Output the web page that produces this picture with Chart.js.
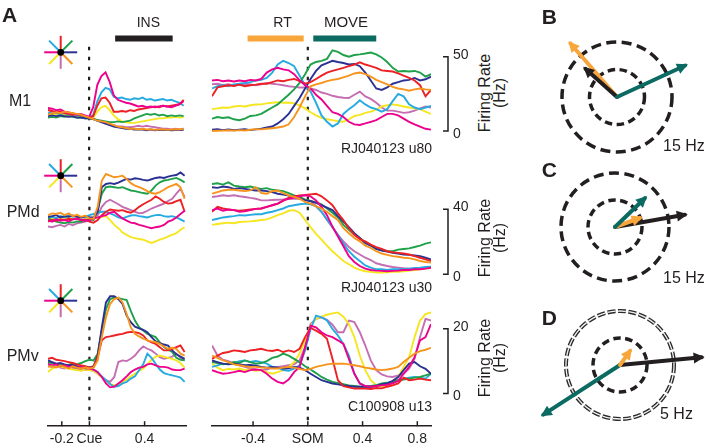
<!DOCTYPE html>
<html>
<head>
<meta charset="utf-8">
<title>Directional tuning across epochs</title>
<script src="https://cdn.jsdelivr.net/npm/chart.js@4.4.1/dist/chart.umd.min.js"></script>
<style>
  html, body { margin: 0; padding: 0; background: #fff; }
  #fig { position: relative; width: 710px; height: 448px; overflow: hidden;
         font-family: "Liberation Sans", Arial, Helvetica, sans-serif; color: #231f20; }
  #fig canvas { position: absolute; }
  .lbl { position: absolute; line-height: 1; white-space: nowrap; }
</style>
</head>
<body>
<div id="fig"></div>
<script>
const FONT = "'Liberation Sans', Arial, Helvetica, sans-serif";
const INK = "#231f20";
const RT_ORANGE = "#f8a53a";
const MOVE_TEAL = "#0b6a62";

// sample times (s), aligned on cue onset and on start of movement (SOM)
const cueTimes = [-0.3, -0.27, -0.24, -0.21, -0.18, -0.15, -0.12, -0.09, -0.06, -0.03, 0, 0.03, 0.06, 0.09, 0.12, 0.15, 0.18, 0.21, 0.24, 0.27, 0.3, 0.33, 0.36, 0.39, 0.42, 0.45, 0.48, 0.51, 0.54, 0.57, 0.6, 0.63, 0.66, 0.69];
const somTimes = [-0.7, -0.66, -0.62, -0.58, -0.54, -0.5, -0.46, -0.42, -0.38, -0.34, -0.3, -0.26, -0.22, -0.18, -0.14, -0.1, -0.06, -0.02, 0.02, 0.06, 0.1, 0.14, 0.18, 0.22, 0.26, 0.3, 0.34, 0.38, 0.42, 0.46, 0.5, 0.54, 0.58, 0.62, 0.66, 0.7, 0.74, 0.78, 0.82, 0.86, 0.9];
const cueTicks = [-0.2, 0, 0.4];
const somTicks = [-0.4, 0, 0.4, 0.8];

// task epochs (s)
const insEpoch = [0.19, 0.61];
const rtEpoch = [-0.44, -0.03];
const moveEpoch = [0.04, 0.5];

// reach directions and their colours
const dirAngles = [0, 45, 90, 135, 180, 225, 270, 315];
const dirColors = ["#2b3192", "#1fa04a", "#ed2024", "#27aae1", "#ec008c", "#f5e61e", "#c56db3", "#f7941d"];
const dirOrder = [4, 5, 3, 6, 2, 7, 8, 1];

// firing rates (Hz), one row per direction in dirAngles order
const m1Cue = [
  [10,10.5,10,10.5,10,9.5,10,9,9,8.5,8.5,8,7,6,5,4,3,2.5,2,1.5,1.5,1,1,1,0.5,1,0.5,0.8,0.6,0.8,0.5,0.7,0.6,0.8],
  [9,9.5,9,10,9.5,10,9.5,9,9,8.5,8.5,8,7.5,7,6.5,6,6,6.5,6,6.5,7,8.5,9.5,10.5,11.5,11,11.5,10.5,11,10,10.5,10,10.5,10],
  [14,13.5,12.5,13,12,11.5,11,11.5,10.5,10,9,10,17,22,22.5,19,13,13,13.5,13,14,13.5,14.5,15,15.5,16,16.5,16,17,16.5,17,17.5,18,21],
  [12,12.5,12,11.5,12,11,11.5,10.5,10,9.5,9,11,20,26,29,28,23,22,22.5,21.5,21,22,21.5,22.5,21,21.5,20.5,21,21.5,20.5,21,20,19,17],
  [15.5,15,14,14.5,13,12.5,12,11,11.5,10.5,9.5,16,31,37,39.5,33,24,21,20,19,18.5,17.5,16.5,17,16,16.5,16,16.5,17,16.5,16,17,18,20],
  [11,11.5,11,10.5,11,10.5,10,9.5,9.5,9,8.5,9,13,16,17,14,10.5,8,6.5,6,5.5,5.5,6,6.5,7,7.5,8,8.5,8.5,9,9,9.5,9,9.5],
  [14.5,13,12,11.5,11,10.5,10,10,9.5,9,9,8.5,7,6,5,4.5,4,3,3,2.5,2.5,3,3.5,3,3.5,3,2.5,2,1.5,1.5,1,1.5,1,1.5],
  [11,12,12.5,12,13,12.5,12,11.5,11,10,9,8,7,6.5,6,5,4,3,2.5,2,1.5,1.5,1,1.5,1,1.2,0.8,1,1.2,0.8,1,1.2,1,1.5]
];
const m1Som = [
  [0.9,1.3,0.6,1.1,0.5,0.9,1.3,0.6,1.1,1.5,2.4,3,5.1,7.9,11.5,16.9,22.2,28.6,35,40.4,44.2,45.7,47.2,46.4,45.7,44.7,45.1,43.6,39.3,34,28.6,27.6,29.3,31.8,32.9,34,34.4,35.7,34,34.8,36.6],
  [8.3,9.4,8.8,9.2,7.9,7.3,8.3,10.1,10.5,11.5,13.7,15.8,17.9,21.2,24.4,28,32.3,38.2,44.7,46.4,47.2,48.5,54.3,53.2,51.1,50,51.1,51.5,52.1,52.8,51.5,49.4,46.4,42.5,40,40.4,40,40.4,39.3,36.6,38.2],
  [23.3,29.3,30.1,30.8,30.3,31.2,30.1,30.8,31.2,31.8,31.8,32.9,34,33.5,34.4,35,33.5,31.8,32.9,35,37.2,39.3,40.4,41.4,42.5,43.6,44.7,46.2,44.7,43.6,42.5,40.8,40.4,40,38.7,37.2,35.7,34,30.8,23.3,27.6],
  [28.6,30.1,30.8,30.3,31.4,31.8,32.3,32.9,34,34.4,35.7,39.3,44.7,47.2,45.7,43.6,37.2,30.8,26.5,19,10.5,6.2,3,5.1,11.5,14.7,17.3,20.7,17.9,15.8,14.7,13,14.7,20.1,25,23.3,17.9,15.8,14.7,15.8,16.9],
  [34,34.4,33.5,34,33.3,34,33.5,34.4,34,35,39.3,41.4,42.5,41.4,40.8,38.2,34,30.8,28.6,24.4,21.2,16.9,12.6,11.5,9.4,6.2,4.5,4.1,5.1,6.2,7.3,9.4,11.5,11.5,10.5,8.3,6.2,4.5,3,1.5,0.9],
  [14.7,15.2,15.8,15.6,16.5,16.9,16.5,17.3,17.8,17.9,18.6,19,19.4,19,19.2,18.6,17.3,15.2,12.6,10.5,8.8,7.9,7.3,6.6,6.2,7.9,10.1,10.9,12.2,13,14.3,16.5,17.3,17.9,17.3,16.5,15.8,15.2,14.7,13,11.5],
  [31.4,31.8,30.8,31.4,30.5,31,31.8,31.4,30.8,31.4,32.3,31.8,31.4,30.8,30.1,29.7,29.3,29.3,28.6,27.6,25.9,25,23.7,22.9,22.4,22.2,24.4,26.5,23.3,21.6,19,15.8,13.7,13.7,13,12.2,12.6,13.7,15.2,16.5,15.8],
  [0,0.2,0.3,0.5,0.3,0.6,0.4,0.9,1.3,1.1,1.5,1.9,2.4,3,4.5,9.4,15.8,23.3,30.1,31.4,32.3,33.5,34.4,35,36.1,37.2,38.7,39.3,38.2,36.6,34.4,32.9,31.4,29.7,28.6,28,27.1,28,28.6,28,27.6]
];
const pmdCue = [
  [35.3,35.7,36.3,34.9,35.7,35.3,36.1,35.3,34.9,35.7,34.9,34.9,38.4,53.5,55.5,56,55.5,56.3,57.6,58.6,58.2,59,58.6,58,57.6,58.4,59.2,59.6,59.2,60,60.6,61,62.6,60.6],
  [34.3,33.3,32.3,31.7,31.3,32.1,31.7,32.5,32.3,33.3,33.7,33.3,39.4,49.5,53.5,53.9,53.5,53.1,53.5,52.5,51.5,51.1,50.5,49.9,49.5,51.5,54.5,56.5,57.6,58,58.6,59.2,58,56.5],
  [32.3,33.3,32.9,33.7,33.3,34.1,33.7,34.3,33.3,33.7,32.3,31.7,33.3,36.3,38.4,39.8,39.4,39,39.4,38.4,37.8,39.4,41.4,43,44.4,45.8,47.9,46.4,44.4,43.4,43.8,45,45.8,38.4],
  [34.9,35.3,34.3,35.7,34.9,36.1,35.3,35.7,34.9,35.3,36.3,37,37.8,38.4,38.4,37.4,36.3,34.9,34.3,35.3,36.1,36.3,35.7,35.3,34.9,35.7,36.3,36.5,35.7,35.3,35.7,34.9,33.7,32.3],
  [33.3,32.3,33.7,32.9,33.3,32.5,33.7,34.1,33.3,32.9,33.3,34.3,34.9,35.7,36.3,37.8,38.4,36.3,34.3,32.9,31.7,31.3,30.3,29.7,28.9,28.3,28.9,29.3,30.3,32.3,33.3,34.9,37,39],
  [33.7,34.3,34.1,34.9,34.3,34.5,33.7,34.1,33.3,33.7,34.1,34.3,34.9,35.3,35.7,33.3,30.3,28.3,25.6,24.2,22.8,22.2,21.6,21.2,20.2,19.2,20.2,21.2,22,23.2,24.2,25.2,27.3,28.9],
  [29.3,28.9,29.7,30.3,29.3,30.9,30.1,31.3,31.7,32.3,33.3,33.7,36.3,41.4,44.4,45.8,44.4,43,41.4,40.4,39.4,38.4,37.4,37.8,39,40.4,41.4,42.4,43.4,45,46.4,49.5,52.5,47.5],
  [36.3,37.4,37,37.8,36.3,37.4,35.7,36.5,35.3,36.1,34.3,34.1,41.4,57.6,61.6,60.6,59.6,60,60.6,58.6,56,54.5,53.5,52.5,51.1,49.9,49.5,50.5,51.9,53.5,54.5,55.5,53.5,46.4]
];
const pmdSom = [
  [53.5,53.1,53.9,53.5,52.5,52.9,52.5,51.9,51.5,51.5,51.1,50.5,49.5,48.9,48.3,47.5,46.6,45.4,45,43.8,42.4,41,39.4,35.7,32.3,28.9,25.2,22.2,19.2,17.6,15.5,14.5,13.9,13.1,12.7,12.1,11.9,11.5,11.1,10.1,9.1],
  [55.5,55.9,55.1,56.5,54.5,53.9,53.5,53.9,53.1,52.5,52.9,51.9,51.5,51.1,49.9,48.5,47.5,45.8,45,44.2,43,40.4,37.8,34.9,30.3,27.3,24.2,22.2,19.2,17.6,15.5,14.7,14.3,14.1,15.1,15.5,15.9,16.7,17.6,18.8,19.6],
  [38.4,41.4,40.4,39.8,39.4,39,39.4,39.8,40.2,40.4,41.4,42.4,43.4,45,47.1,47.9,48.5,48.7,49.1,49.5,47.9,45.4,42.4,37.4,33.3,28.3,24.2,21.6,20.2,18.2,16.7,15.5,14.1,13.5,13.1,12.7,12.1,11.1,10.1,9.1,8.1],
  [33.3,34.1,34.9,35.3,35.7,36.3,36.1,36.5,36.9,36.9,37.8,38.4,39.4,40.4,41.8,42.4,43,43.4,43,41.8,38.4,33.7,28.9,24.2,18.8,14.1,10.7,8.1,5.4,4,3,3,2.6,3,3,3,3.4,3.8,4,4.4,4.6],
  [39.4,40.4,39,39.8,39.4,38.4,38.6,39.4,40.2,40.4,41.4,42.4,43.4,45.4,46.4,47.1,47.9,48.5,47.9,45.4,41.4,36.3,29.3,23.2,17.2,11.1,7.5,5,3.4,2.6,2.2,2,1.8,2,2.2,2.6,2.6,3,3,3.4,4],
  [30.3,30.9,31.3,31.7,31.3,32.1,32.3,32.5,32.9,33.3,33.7,34.9,36.3,37.4,39,39.4,37.8,33.3,28.9,24.8,21.2,17.6,14.1,11.1,8.1,6.1,4,2.6,1.8,1.4,1,1,1.2,1.4,1.4,1.8,2.2,2.6,3,3.4,4],
  [47.5,47.9,48.5,48.1,48.5,47.9,47.5,46.9,46.4,45.4,45.4,45.6,45.8,46,46.4,46.4,46.4,45.8,45,41.8,38.4,33.3,28.9,24.2,20.2,16.7,14.1,12.1,10.1,8.7,6.7,5.8,5,4.4,4,3.6,3.4,3,3.4,3.8,4],
  [49.5,50.5,51.5,51.9,51.9,51.5,51.1,51.5,53.5,49.9,49.5,51.1,51.5,49.9,48.5,47.5,46.4,44.4,43.4,41.8,40.4,38.4,35.7,33.3,28.3,25.2,22.2,20.2,17.6,16.1,14.1,12.7,11.9,11.1,10.7,10.1,9.9,9.1,8.1,7.5,7.1]
];
const pmvCue = [
  [10.2,9.7,9.2,9.4,9,8.7,8.8,8.4,8,8.2,8,8.4,11.7,20.4,28.1,30,30,29.1,27.6,24,22,20.6,20.1,19.6,18.9,17.4,16.1,15.5,15.1,14.8,13.3,12.1,11.4,10.7],
  [9.7,9.4,9,9.2,8.7,8.9,9.2,9,9.4,10,10.4,10.2,12.3,19.4,26,29.1,29.6,29.4,29.1,28.8,25.5,22.5,20.4,19.4,18.4,17.9,17.4,15.8,14.3,13.5,12.8,11,10.4,10.2],
  [10.7,11,10.4,10.2,10,9.7,9.4,9,8.7,8.4,8,8.2,11.2,16.4,17.4,17.6,17.9,18.2,18.4,18.8,19,18.9,18.6,17.9,16.4,15.8,15.3,14.3,13.3,13.3,13.8,14.3,14.8,12.8],
  [10.2,9.4,9,8.7,8.4,8.6,8.2,8,8.2,7.7,8,7.4,6.6,5.3,4.1,2.9,2.1,2.3,3.1,3.6,4.6,5.3,7.2,9,12.3,11,9.2,7.4,6.3,5.9,5.6,5.3,4.9,3.6],
  [9.2,8.7,9,8.4,8.7,8.2,8.4,8,8.2,7.8,7.7,7.4,6.6,5.1,3.1,1.9,2.1,3.1,4.1,5.3,6.6,7.4,8,8.2,9,9.2,8.7,8.2,8.2,8,7.4,7.2,7.2,7.7],
  [6.6,7.7,8.2,8.4,8,7.7,7.4,7.2,7,7.4,7.2,7,6.1,5.1,3.9,2.9,2.6,2.9,3.6,4.3,5.3,6.1,7,7.7,9,10.4,11.4,11.7,11.4,11,10.7,10.2,9.4,8],
  [8.7,8.2,8.4,8,7.7,8,7.7,7.4,7.2,7.4,7.2,7,6.1,5.1,4.1,3.6,5.1,9.7,10.2,10,10.7,11.7,13.3,14.5,13.8,13.3,12.3,11.2,10.7,11,11.4,12.3,11,10.2],
  [8.2,8.4,8,8.6,8.2,7.7,8.4,8,7.7,8,7.7,8,10.2,17.4,23.5,27.6,29.1,29.6,28.1,24.5,20.4,18.4,17.6,16.9,16.4,16.1,15.8,15.3,14.5,13.8,14.1,13.8,12.3,11.7]
];
const pmvSom = [
  [10.2,9.7,9.2,9,9.2,9,8.7,8.8,8.6,8.2,8,8.2,8,7.7,7.8,8.2,8,7.2,6.1,5.1,4.1,3.6,3.1,2.8,2.5,2.3,2.1,2.1,2.1,2.1,2.3,2.9,3.1,3.9,5.1,7.2,9.2,9.7,8.4,7.6,6.1],
  [9.7,9.4,9,9.2,9.7,9.4,10.2,9.7,9.2,9.4,10,11,11.4,12.3,11.7,10.7,9.7,8.4,7.4,6.3,5.1,4.3,3.6,3.3,2.9,2.5,2.3,2.1,2.1,2.3,2.6,3.1,3.3,3.6,4.1,4.3,4.6,4.9,5.1,5.6,6.1],
  [10.7,11.7,12.5,12.8,13.3,13.1,12.8,13.3,13.5,13.8,13.3,13.1,13.5,12.8,13.3,12.8,13.8,17.4,20.2,19.4,18.4,16.9,10.7,4.1,2.3,1.9,1.5,1.6,1.5,1.4,1.7,1.6,2.1,2.5,3.1,4.9,4.1,4.3,4.6,4.3,4.1],
  [8.2,8.7,9.2,9,9.4,10,10.2,9.7,10,9.7,9.2,8.2,8,7.2,7,7.7,8.7,13.3,19.9,24,23.5,22.5,19.9,17.9,15.3,11.7,6.1,3.1,2.3,2.1,2.5,2.9,3.3,3.6,4.1,4.6,4.9,5.1,4.9,4.6,6.1],
  [7.2,6.6,6.1,6.3,6.6,7,6.6,7.2,7.4,7.2,6.1,4.6,3.6,3.1,4.3,6.6,8.2,14.3,20.9,20.4,18.9,17.9,17.4,16.4,15.3,10.7,6.1,3.1,2.3,2.1,2.3,2.5,2.7,3.1,3.9,6.1,8.2,11.2,16.4,17.4,21.4],
  [9.2,8,7.2,7.6,7.4,7.7,7.2,7.4,7,7.2,6.6,6.1,6.6,7.2,8.2,9.7,12.3,16.4,20.9,23,23.7,24.3,24.7,25,23.7,21.4,17.4,11.7,7.2,4.1,2.6,2.1,2.3,2.9,5.1,8.2,11.2,17.4,22.5,24.5,25],
  [14.8,11.7,10.4,10,9.2,8.7,8.2,7.7,7.4,7.2,7.4,8,8.2,8.4,8.7,9,10.2,14.3,21.4,23,23.5,22.7,21.2,18.9,18.9,22.5,22,18.9,14.8,10.2,7.2,5.9,5.3,5.1,5.6,6.1,7.7,10.7,17.4,23,22.5],
  [11.7,11,10.2,9.7,9,8.7,8.4,8.2,8.2,8,7.9,7.7,7.7,8,8.2,8,7.6,7.2,7.6,8.2,8.6,9,9.2,9.2,9.2,9,8.7,8.4,8,7.7,7.4,7.2,7.4,7.7,8.2,9.7,11,12.3,13.1,13.5,14.1]
];

// population vectors (Hz, x/y) for each epoch, listed bottom to top
const vecsB = [[-12.7, 14.6], [-8.6, 7.7], [18.6, 8.6]];
const colorsB = [RT_ORANGE, INK, MOVE_TEAL];
const vecsC = [[19.4, 3.4], [6.9, 2.5], [8.3, 8.0]];
const colorsC = [INK, RT_ORANGE, MOVE_TEAL];
const vecsD = [[-7.1, -4.6], [7.56, 0.71], [0.93, 1.3]];
const colorsD = [MOVE_TEAL, INK, RT_ORANGE];
const ringsB = [7.5, 15];
const ringsC = [7.5, 15];
const ringsD = [2.5, 5];

Chart.defaults.font.family = FONT;
Chart.defaults.color = INK;

const fig = document.getElementById("fig");

function addCanvas(id, left, top, w, h) {
  const c = document.createElement("canvas");
  c.id = id;
  c.width = w;
  c.height = h;
  c.style.left = left + "px";
  c.style.top = top + "px";
  c.style.width = w + "px";
  c.style.height = h + "px";
  fig.appendChild(c);
  return c;
}

function addText(str, x, baseline, size, opts = {}) {
  const el = document.createElement("div");
  el.className = "lbl";
  el.textContent = str;
  el.style.fontSize = size + "px";
  if (opts.bold) el.style.fontWeight = "bold";
  el.style.top = (baseline - 0.8465 * size) + "px";
  if (opts.align === "center") {
    el.style.left = x + "px";
    el.style.transform = "translateX(-50%)";
  } else if (opts.align === "right") {
    el.style.right = (710 - x) + "px";
  } else {
    el.style.left = x + "px";
  }
  fig.appendChild(el);
}

function addRateLabel(cx, cy) {
  const el = document.createElement("div");
  el.className = "lbl";
  el.style.fontSize = "16px";
  el.style.lineHeight = "15px";
  el.style.textAlign = "center";
  el.style.width = "100px";
  el.style.left = (cx - 50) + "px";
  el.style.top = (cy - 15) + "px";
  el.style.transform = "rotate(-90deg)";
  el.innerHTML = "Firing Rate<br>(Hz)";
  fig.appendChild(el);
}

// dashed alignment line at t = 0, continuous across rows
const DASH_TOP = 46.7;
const DASH = [3.5, 6.5];
function alignLine(canvasTop, isBottom) {
  return {
    id: "alignLine",
    beforeDatasetsDraw(chart) {
      const ctx = chart.ctx;
      const x = chart.scales.x.getPixelForValue(0);
      const y0 = Math.max(0, DASH_TOP - canvasTop);
      const y1 = isBottom ? chart.chartArea.bottom - 4 : chart.height;
      ctx.save();
      ctx.strokeStyle = INK;
      ctx.lineWidth = 2.2;
      ctx.setLineDash(DASH);
      ctx.lineDashOffset = (canvasTop + y0 - DASH_TOP) % (DASH[0] + DASH[1]);
      ctx.beginPath();
      ctx.moveTo(x, y0);
      ctx.lineTo(x, y1);
      ctx.stroke();
      ctx.restore();
    }
  };
}

// colour key: one ray per reach direction
function dirKey(cx, cy) {
  return {
    id: "dirKey",
    afterDraw(chart) {
      const ctx = chart.ctx;
      ctx.save();
      ctx.lineWidth = 2;
      dirAngles.forEach((a, i) => {
        const r = a * Math.PI / 180;
        ctx.strokeStyle = dirColors[i];
        ctx.beginPath();
        ctx.moveTo(cx, cy);
        ctx.lineTo(cx + 16.5 * Math.cos(r), cy - 16.5 * Math.sin(r));
        ctx.stroke();
      });
      ctx.fillStyle = "#000";
      ctx.beginPath();
      ctx.arc(cx, cy, 3.4, 0, Math.PI * 2);
      ctx.fill();
      ctx.restore();
    }
  };
}

// vertical rate scale bar drawn from the y scale
function scaleBar(barMax, xLocal) {
  return {
    id: "scaleBar",
    afterDraw(chart) {
      const ctx = chart.ctx, ys = chart.scales.y;
      const yTop = ys.getPixelForValue(barMax), yBot = ys.getPixelForValue(0);
      ctx.save();
      ctx.strokeStyle = INK;
      ctx.lineWidth = 1.5;
      ctx.beginPath();
      ctx.moveTo(xLocal - 5, yTop);
      ctx.lineTo(xLocal, yTop);
      ctx.lineTo(xLocal, yBot);
      ctx.lineTo(xLocal - 5, yBot);
      ctx.stroke();
      ctx.fillStyle = INK;
      ctx.font = "14px " + FONT;
      ctx.textAlign = "left";
      ctx.textBaseline = "alphabetic";
      ctx.fillText(String(barMax), xLocal + 5, yTop + 2);
      ctx.fillText("0", xLocal + 5, yBot + 6.5);
      ctx.restore();
    }
  };
}

// tick marks pointing up into the plot
const upTicks = {
  id: "upTicks",
  afterDraw(chart) {
    const s = chart.scales.x, ctx = chart.ctx, yb = chart.chartArea.bottom;
    ctx.save();
    ctx.strokeStyle = INK;
    ctx.lineWidth = 1.5;
    s.ticks.forEach((t) => {
      const x = s.getPixelForValue(t.value);
      ctx.beginPath();
      ctx.moveTo(x, yb);
      ctx.lineTo(x, yb - 5);
      ctx.stroke();
    });
    ctx.restore();
  }
};

function makeTraceChart(cfg) {
  const cv = addCanvas(cfg.id, cfg.left, cfg.top, cfg.w, cfg.h);
  const datasets = cfg.rows.map((vals, i) => ({
    data: vals.map((v, j) => ({ x: cfg.times[j], y: v })),
    borderColor: dirColors[i],
    borderWidth: 1.9,
    pointRadius: 0,
    tension: 0,
    fill: false,
    order: dirOrder[i]
  }));
  (cfg.epochs || []).forEach((e) => {
    datasets.push({
      data: e.span.map((t) => ({ x: t, y: cfg.epochY })),
      borderColor: e.color,
      borderWidth: 6,
      borderCapStyle: "butt",
      pointRadius: 0,
      order: 0
    });
  });

  const xScale = { type: "linear", min: cfg.xMin, max: cfg.xMax, display: false };
  if (cfg.ticks) {
    Object.assign(xScale, {
      display: true,
      position: "bottom",
      border: { display: true, color: INK, width: 1.5 },
      grid: { display: false, drawTicks: false },
      ticks: {
        color: INK,
        font: { size: 14 },
        padding: 5,
        maxRotation: 0,
        autoSkip: false,
        callback: (v) => (v === 0 ? cfg.eventName : v.toFixed(1))
      },
      afterBuildTicks: (s) => {
        s.ticks = cfg.ticks.map((v) => ({ value: v }));
      }
    });
  }

  return new Chart(cv, {
    type: "line",
    data: { datasets },
    options: {
      responsive: false,
      animation: false,
      events: [],
      layout: { padding: cfg.pad },
      plugins: { legend: { display: false }, tooltip: { enabled: false } },
      scales: {
        x: xScale,
        y: { type: "linear", min: 0, max: 50, display: false }
      }
    },
    plugins: cfg.plugins
  });
}

// set the y range so that 0 Hz and the Hz-per-pixel land where the row needs them
function fitY(chart, canvasTop, zeroY, pxPerHz) {
  const a = chart.chartArea;
  chart.options.scales.y.min = -((canvasTop + a.bottom) - zeroY) / pxPerHz;
  chart.options.scales.y.max = (zeroY - (canvasTop + a.top)) / pxPerHz;
  chart.update();
}

const rowLayout = [
  { name: "M1", top: 26, h: 129, zeroY: 133, pxPerHz: 1.56, cue: m1Cue, som: m1Som, bar: 50,
    unit: "RJ040123 u80", nameX: 9, nameY: 106.7, unitY: 152.5, rateY: 93, starY: 52.3 },
  { name: "PMd", top: 155, h: 128, zeroY: 275, pxPerHz: 1.65, cue: pmdCue, som: pmdSom, bar: 40,
    unit: "RJ040123 u30", nameX: 6.7, nameY: 218, unitY: 291.5, rateY: 238, starY: 175.7 },
  { name: "PMv", top: 283, h: 170, zeroY: 393.3, pxPerHz: 3.265, cue: pmvCue, som: pmvSom, bar: 20,
    unit: "C100908 u13", nameX: 6.7, nameY: 361.7, unitY: 411, rateY: 358, starY: 300.7, axis: true }
];
const EPOCH_Y = (133 - 36) / 1.56;

rowLayout.forEach((row, r) => {
  const bottom = !!row.axis;
  const cueChart = makeTraceChart({
    id: "cue" + r, left: 26, top: row.top, w: 162, h: row.h,
    pad: { left: 22, right: 2, top: 0, bottom: 0 },
    times: cueTimes, rows: row.cue, xMin: -0.3, xMax: 0.7,
    ticks: bottom ? cueTicks : null, eventName: "Cue",
    epochs: r === 0 ? [{ span: insEpoch, color: INK }] : [], epochY: EPOCH_Y,
    plugins: [alignLine(row.top, bottom), dirKey(34.7, row.starY - row.top)].concat(bottom ? [upTicks] : [])
  });
  fitY(cueChart, row.top, row.zeroY, row.pxPerHz);

  const somChart = makeTraceChart({
    id: "som" + r, left: 208, top: row.top, w: 262, h: row.h,
    pad: { left: 4, right: 39, top: 0, bottom: 0 },
    times: somTimes, rows: row.som, xMin: -0.7, xMax: 0.9,
    ticks: bottom ? somTicks : null, eventName: "SOM",
    epochs: r === 0 ? [{ span: rtEpoch, color: RT_ORANGE }, { span: moveEpoch, color: MOVE_TEAL }] : [],
    epochY: EPOCH_Y,
    plugins: [alignLine(row.top, bottom), scaleBar(row.bar, 240)].concat(bottom ? [upTicks] : [])
  });
  fitY(somChart, row.top, row.zeroY, row.pxPerHz);

  addText(row.name, row.nameX, row.nameY, 16);
  addText(row.unit, 432, row.unitY, 14, { align: "right" });
  addRateLabel(492, row.rateY);
});

// polar summaries
function rings(radii, doubleOuter) {
  return {
    id: "rings",
    beforeDatasetsDraw(chart) {
      const xs = chart.scales.x, ys = chart.scales.y, ctx = chart.ctx;
      const cx = xs.getPixelForValue(0), cy = ys.getPixelForValue(0);
      radii.forEach((r, i) => {
        const rad = xs.getPixelForValue(r) - cx;
        const outer = i === radii.length - 1;
        ctx.save();
        ctx.beginPath();
        ctx.arc(cx, cy, rad, 0, Math.PI * 2);
        if (outer && doubleOuter) {
          ctx.setLineDash([8, 2.5]);
          ctx.lineWidth = 4;
          ctx.strokeStyle = "#2a2a2a";
          ctx.stroke();
          ctx.lineWidth = 1.3;
          ctx.strokeStyle = "#f2f2f2";
          ctx.stroke();
        } else {
          ctx.setLineDash(outer ? [10, 5.5] : [7.5, 4.5]);
          ctx.lineWidth = 3.5;
          ctx.strokeStyle = INK;
          ctx.stroke();
        }
        ctx.restore();
      });
    }
  };
}

const arrowHeads = {
  id: "arrowHeads",
  afterDatasetDraw(chart, args) {
    const pts = args.meta.data;
    if (pts.length < 2) return;
    const a = pts[0], b = pts[1];
    const ang = Math.atan2(b.y - a.y, b.x - a.x);
    const ctx = chart.ctx;
    const cos = Math.cos(ang), sin = Math.sin(ang);
    const tipX = b.x + 3 * cos, tipY = b.y + 3 * sin;
    const L = 11, W = 5.5;
    const bx = tipX - L * cos, by = tipY - L * sin;
    ctx.save();
    ctx.fillStyle = chart.data.datasets[args.index].borderColor;
    ctx.beginPath();
    ctx.moveTo(tipX, tipY);
    ctx.lineTo(bx + W * sin, by - W * cos);
    ctx.lineTo(bx - W * sin, by + W * cos);
    ctx.closePath();
    ctx.fill();
    ctx.restore();
  }
};

function makeTuningChart(id, left, top, size, range, radii, vecs, colors, doubleOuter) {
  const cv = addCanvas(id, left, top, size, size);
  const n = vecs.length;
  const datasets = vecs.map((v, i) => ({
    data: [{ x: 0, y: 0 }, { x: v[0], y: v[1] }],
    showLine: true,
    borderColor: colors[i],
    backgroundColor: colors[i],
    borderWidth: 4,
    borderCapStyle: "round",
    pointRadius: 0,
    order: n - i
  }));
  return new Chart(cv, {
    type: "scatter",
    data: { datasets },
    options: {
      responsive: false,
      animation: false,
      events: [],
      layout: { padding: 0 },
      plugins: { legend: { display: false }, tooltip: { enabled: false } },
      scales: {
        x: { type: "linear", min: -range, max: range, display: false },
        y: { type: "linear", min: -range, max: range, display: false }
      }
    },
    plugins: [rings(radii, doubleOuter), arrowHeads]
  });
}

makeTuningChart("polB", 537, 17, 160, 80 / 3.667, ringsB, vecsB, colorsB, false);
makeTuningChart("polC", 535, 147, 160, 80 / 3.6, ringsC, vecsC, colorsC, false);
makeTuningChart("polD", 535, 280, 170, 85 / 10.8, ringsD, vecsD, colorsD, true);

// labels
addText("A", 2, 22, 21, { bold: true });
addText("B", 541.7, 23.3, 21, { bold: true });
addText("C", 541.7, 177, 21, { bold: true });
addText("D", 541.7, 325, 21, { bold: true });
addText("INS", 148.3, 26.5, 14, { align: "center" });
addText("RT", 282.5, 26.5, 14, { align: "center" });
addText("MOVE", 346, 26.5, 15, { align: "center" });
addText("15 Hz", 663, 151.7, 16);
addText("15 Hz", 663, 283.5, 16);
addText("5 Hz", 660, 420, 16);
</script>
</body>
</html>
